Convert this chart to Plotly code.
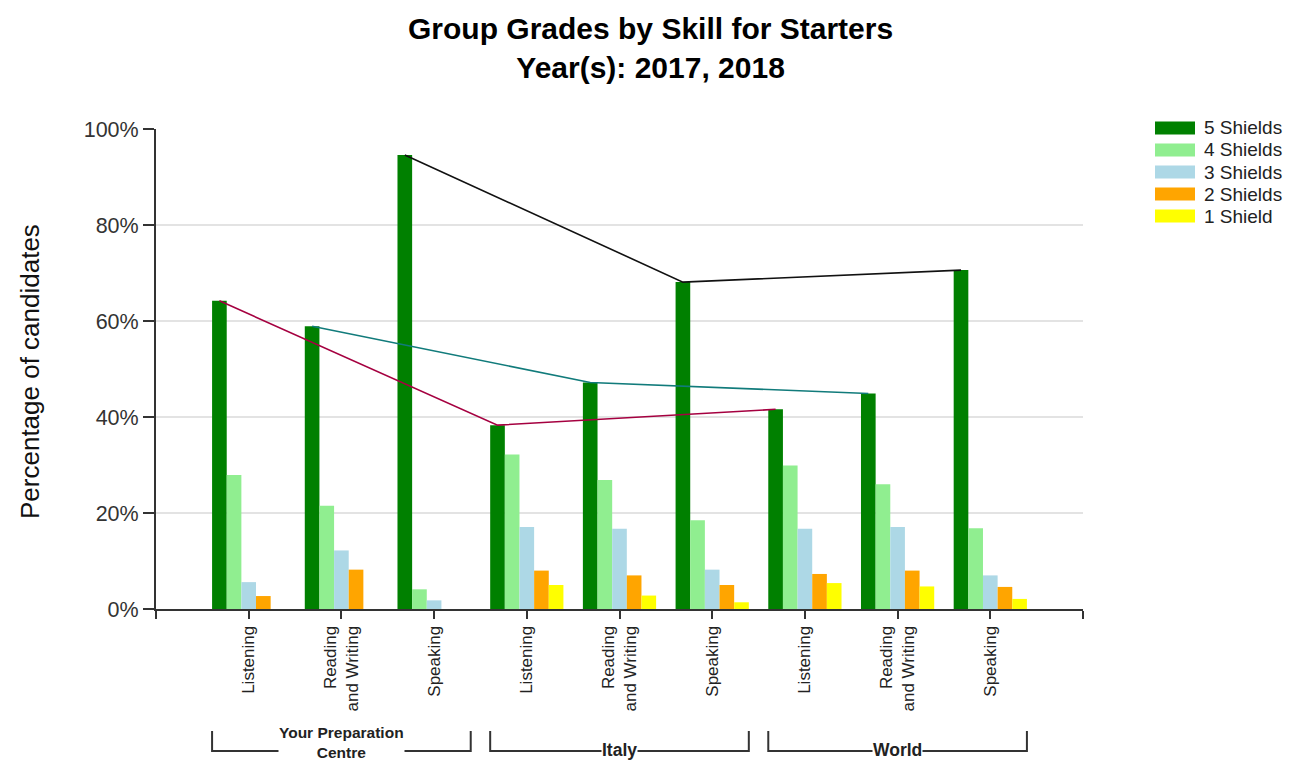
import plotly.graph_objects as go

# data (percent of candidates)
skills = ["Listening", "Reading<br>and Writing", "Speaking"] * 3
groups = ["Your Preparation<br>Centre", "Italy", "World"]
title_text = "Group Grades by Skill for Starters<br>Year(s): 2017, 2018"
series_names = ["5 Shields", "4 Shields", "3 Shields", "2 Shields", "1 Shield"]
series_colors = ["#008000", "#90EE90", "#ADD8E6", "#FFA500", "#FFFF00"]
y_ticks = [0, 20, 40, 60, 80, 100]

five_shields = [64.2, 58.9, 94.6, 38.3, 47.2, 68.1, 41.6, 44.9, 70.6]
four_shields = [27.9, 21.5, 4.1, 32.2, 26.9, 18.5, 29.9, 26.0, 16.8]
three_shields = [5.6, 12.2, 1.8, 17.1, 16.7, 8.2, 16.7, 17.1, 7.0]
two_shields = [2.7, 8.2, 0.0, 8.0, 7.0, 5.0, 7.3, 8.0, 4.6]
one_shield = [0.0, 0.0, 0.0, 5.0, 2.8, 1.4, 5.4, 4.7, 2.1]

# lines join the "5 Shields" bar of the same skill across the three groups
link_colors = ["#A50040", "#117B7B", "#111111"]

FONT = "Liberation Sans, Arial, sans-serif"
BARGAP = 0.21
PAGE_PAD = 8  # default body margin of the html page
n_series = len(series_names)
bar_w = (1 - BARGAP) / n_series
xs = list(range(len(skills)))

fig = go.Figure()
for name, color, vals in zip(
    series_names,
    series_colors,
    [five_shields, four_shields, three_shields, two_shields, one_shield],
):
    fig.add_trace(
        go.Bar(x=xs, y=vals, name=name, marker=dict(color=color, line=dict(width=0)), showlegend=False)
    )

# connector lines sit on the centre of the first (5 Shields) bar in each slot
first_offset = -(1 - BARGAP) / 2 + bar_w / 2
for k, color in enumerate(link_colors):
    idx = [k, k + 3, k + 6]
    fig.add_trace(
        go.Scatter(
            x=[i + first_offset for i in idx],
            y=[five_shields[i] for i in idx],
            mode="lines",
            line=dict(color=color, width=1.6),
            showlegend=False,
            hoverinfo="skip",
        )
    )

# plot area on screen in px: x 156..1083, y 129..609
def px_x(p):
    return (p - 156) / 927


def px_y(p):
    return (609 - p) / 480


shapes = []
annotations = []

# custom legend with wide swatches
for i, (name, color) in enumerate(zip(series_names, series_colors)):
    yc = 128 + 22 * i
    shapes.append(
        dict(type="rect", xref="paper", yref="paper",
             x0=px_x(1155), x1=px_x(1195), y0=px_y(yc + 6.5), y1=px_y(yc - 6.5),
             fillcolor=color, line=dict(width=0))
    )
    annotations.append(
        dict(xref="paper", yref="paper", x=px_x(1202), y=px_y(yc), text=name,
             showarrow=False, xanchor="left", yanchor="middle",
             font=dict(family=FONT, size=19, color="#222"))
    )

# group brackets under the skill labels
half = (1 - BARGAP) / 2
for g, name in enumerate(groups):
    x0 = g * 3 - half
    x1 = g * 3 + 2 + half
    shapes.append(
        dict(type="path", xref="x", yref="paper",
             path=f"M {x0},{px_y(731)} L {x0},{px_y(751)} L {x1},{px_y(751)} L {x1},{px_y(731)}",
             line=dict(color="#333", width=2))
    )
    two_line = "<br>" in name
    annotations.append(
        dict(xref="x", yref="paper", x=g * 3 + 1, y=px_y(742 if two_line else 750),
             text=f"<b>{name}</b>",
             showarrow=False, xanchor="center", yanchor="middle", bgcolor="white",
             borderpad=0,
             font=dict(family=FONT, size=15.5 if two_line else 17.5, color="#222"))
    )

annotations.append(
    dict(xref="paper", yref="paper", x=px_x(30), y=px_y(372), text="Percentage of candidates",
         textangle=-90, showarrow=False, xanchor="center", yanchor="middle",
         font=dict(family=FONT, size=26, color="#111"))
)

annotations.append(
    dict(xref="paper", yref="paper", x=px_x(650), y=px_y(48), text=f"<b>{title_text}</b>",
         showarrow=False, xanchor="center", yanchor="middle",
         font=dict(family=FONT, size=30, color="#000"))
)

fig.update_layout(
    width=1292 - PAGE_PAD,
    height=762 - PAGE_PAD,
    margin=dict(l=156 - PAGE_PAD, r=1292 - 1083, t=129 - PAGE_PAD, b=762 - 609),
    paper_bgcolor="white",
    plot_bgcolor="white",
    barmode="group",
    bargap=BARGAP,
    bargroupgap=0,
    font=dict(family=FONT, color="#222"),
    shapes=shapes,
    annotations=annotations,
)

fig.update_xaxes(
    range=[-1, 9],
    tickvals=[-1] + xs + [9],
    ticktext=[""] + skills + [""],
    tickangle=-90,
    ticks="outside",
    ticklen=8,
    tickwidth=2,
    tickcolor="#333",
    showline=True,
    linecolor="#333",
    linewidth=2,
    showgrid=False,
    zeroline=False,
    tickfont=dict(family=FONT, size=17, color="#222"),
)
fig.update_yaxes(
    range=[0, 100],
    tickvals=y_ticks,
    ticktext=[f"{v}%" for v in y_ticks],
    ticks="outside",
    ticklen=11,
    tickwidth=2,
    tickcolor="#333",
    showline=True,
    linecolor="#333",
    linewidth=2,
    showgrid=True,
    gridcolor="#e3e3e3",
    gridwidth=2,
    zeroline=False,
    tickfont=dict(family=FONT, size=21.5, color="#333"),
)

fig.write_html("out.html")
